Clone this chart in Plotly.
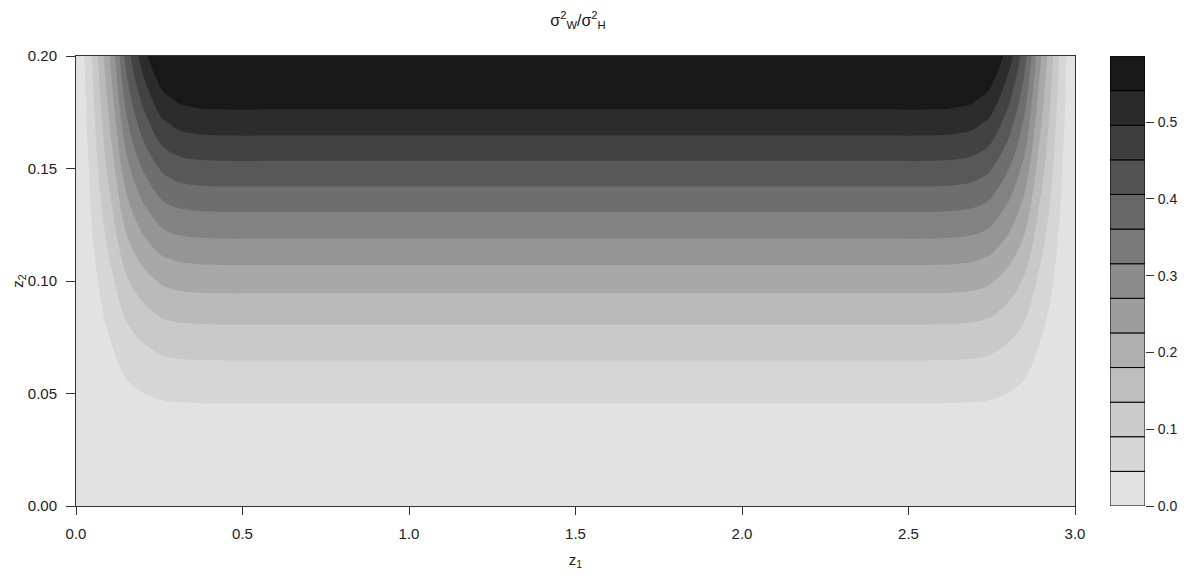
import plotly.graph_objects as go

# ---- data ----
# contour levels (colour-key band edges)
LEVELS = [0.0, 0.0451, 0.0902, 0.1352, 0.1803, 0.2254, 0.2705, 0.3155,
          0.3606, 0.4057, 0.4508, 0.4958, 0.5409, 0.586]
# band colours, lowest band first
COLORS = ["#E2E2E2", "#D7D7D7", "#CBCBCB", "#BEBEBE", "#AEAEAE", "#9D9D9D",
          "#8C8C8C", "#7A7A7A", "#676767", "#535353", "#3E3E3E", "#2A2A2A",
          "#181818"]

# profile of the ratio along z2 (flat centre of the plot)
Z2 = [0.00, 0.01, 0.02, 0.03, 0.04, 0.05, 0.06, 0.07, 0.08, 0.09, 0.10,
      0.11, 0.12, 0.13, 0.14, 0.15, 0.16, 0.17, 0.18, 0.19, 0.20]
H = [0.000, 0.005, 0.010, 0.018, 0.032, 0.055, 0.078, 0.104, 0.133, 0.165,
     0.199, 0.236, 0.275, 0.313, 0.353, 0.392, 0.433, 0.472, 0.511, 0.549, 0.586]

# relative edge fall-off along z1
Z1 = [0.000, 0.020, 0.037, 0.057, 0.074, 0.092, 0.109, 0.124, 0.137, 0.152,
      0.174, 0.200, 0.232, 0.260, 0.310, 0.370, 0.450, 0.600, 1.500,
      2.400, 2.550, 2.630, 2.690, 2.740, 2.768, 2.800, 2.826, 2.848, 2.863,
      2.876, 2.891, 2.908, 2.926, 2.943, 2.963, 2.980, 3.000]
G = [0.00, 0.06, 0.11, 0.19, 0.265, 0.345, 0.42, 0.50, 0.575, 0.65,
     0.73, 0.81, 0.885, 0.94, 0.98, 0.995, 1.0, 1.0, 1.0,
     1.0, 1.0, 0.995, 0.98, 0.94, 0.885, 0.81, 0.73, 0.65, 0.575,
     0.50, 0.42, 0.345, 0.265, 0.19, 0.11, 0.06, 0.00]

X_TICKS = [0.0, 0.5, 1.0, 1.5, 2.0, 2.5, 3.0]
Y_TICKS = [0.00, 0.05, 0.10, 0.15, 0.20]
KEY_TICKS = [0.0, 0.1, 0.2, 0.3, 0.4, 0.5]

# ---- build figure ----
Z = [[h * g for g in G] for h in H]

step = LEVELS[1] - LEVELS[0]
n = len(COLORS) - 1
colorscale = [[i / n, c] for i, c in enumerate(COLORS)]

FONT = "Liberation Sans, Arial, sans-serif"
TXT = "#222222"
AX = "#333333"

fig = go.Figure()
fig.add_trace(go.Contour(
    x=Z1, y=Z2, z=Z,
    contours=dict(start=LEVELS[1], end=LEVELS[-2], size=step, coloring="fill"),
    colorscale=colorscale,
    line=dict(width=0, smoothing=1.0),
    showscale=False,
    hoverinfo="skip",
))

# colour key
fig.add_trace(go.Bar(
    x=[0] * (len(LEVELS) - 1),
    y=[LEVELS[i + 1] - LEVELS[i] for i in range(len(LEVELS) - 1)],
    base=LEVELS[:-1],
    marker=dict(color=COLORS, line=dict(color="#000000", width=1)),
    width=1.0,
    xaxis="x2", yaxis="y2",
    showlegend=False,
    hoverinfo="skip",
))

# page body has an 8px margin, so figure coords = window coords - 8
W, Hh = 1170, 562
L, R, T, B = 68, 32, 48, 64
pw = W - L - R
x_main_end = (1067 - L) / pw
cb0 = (1102 - L) / pw
cb1 = (1137 - L) / pw

fig.update_layout(
    width=W, height=Hh,
    margin=dict(l=L, r=R, t=T, b=B, autoexpand=False),
    paper_bgcolor="white", plot_bgcolor="white",
    font=dict(family=FONT, size=15, color=TXT),
    title=dict(text="σ<sup>2</sup><sub>W</sub>/σ<sup>2</sup><sub>H</sub>",
               x=570 / W, xanchor="center", y=1 - 12 / Hh, yanchor="middle",
               font=dict(size=16, color="#111111")),
    barmode="overlay",
    xaxis=dict(domain=[0, x_main_end], range=[0, 3], tickvals=X_TICKS,
               ticktext=[f"{v:.1f}" for v in X_TICKS],
               ticks="outside", ticklen=8, tickcolor=AX, ticklabelstandoff=6,
               showline=True, mirror=True, linecolor=AX, linewidth=1,
               showgrid=False, zeroline=False,
               title=dict(text="z<sub>1</sub>", standoff=19,
                          font=dict(size=15))),
    yaxis=dict(range=[0, 0.2], tickvals=Y_TICKS,
               ticktext=[f"{v:.2f}" for v in Y_TICKS],
               ticks="outside", ticklen=9, tickcolor=AX, ticklabelstandoff=6,
               showline=True, mirror=True, linecolor=AX, linewidth=1,
               showgrid=False, zeroline=False,
               title=dict(text="z<sub>2</sub>", standoff=0,
                          font=dict(size=15))),
    xaxis2=dict(domain=[cb0, cb1], range=[-0.5, 0.5], anchor="y2",
                showticklabels=False, ticks="", showgrid=False,
                zeroline=False, showline=False, fixedrange=True),
    yaxis2=dict(anchor="x2", side="right", range=[0, LEVELS[-1]],
                tickvals=KEY_TICKS, ticktext=[f"{v:.1f}" for v in KEY_TICKS],
                ticks="outside", ticklen=8, tickcolor=AX, ticklabelstandoff=1,
                tickfont=dict(size=14),
                showgrid=False, zeroline=False, showline=False,
                fixedrange=True),
)

fig.write_html("out.html")
